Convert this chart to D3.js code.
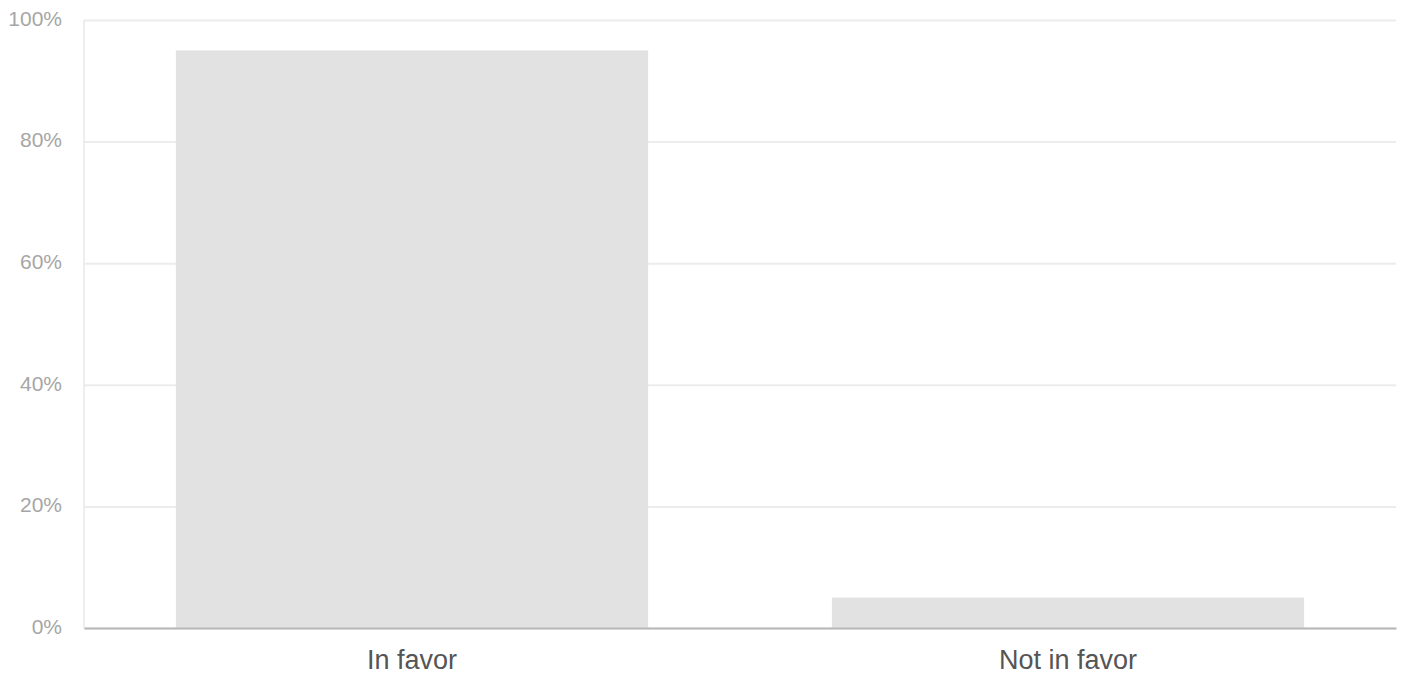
<!DOCTYPE html>
<html>
<head>
<meta charset="utf-8">
<script src="https://cdn.jsdelivr.net/npm/d3@7"></script>
<style>
  body { margin: 0; background: #fff; }
  text { font-family: "Liberation Sans", Arial, sans-serif; }
</style>
</head>
<body>
<div id="my_dataviz"></div>
<script>
// data
var categories = ["In favor", "Not in favor"];
var shares = [0.95, 0.05];
var yTicks = [0, 0.2, 0.4, 0.6, 0.8, 1];

// dimensions of the graph
var W = 1403, H = 677;
var margin = {top: 20, right: 7, bottom: 49, left: 84},
    width = W - margin.left - margin.right,
    height = H - margin.top - margin.bottom;

var svg = d3.select("#my_dataviz")
  .append("svg")
    .attr("width", W)
    .attr("height", H)
  .append("g")
    .attr("transform", "translate(" + margin.left + "," + margin.top + ")");

// scales
var x = d3.scaleBand()
  .range([0, width])
  .domain(categories)
  .paddingInner(0.28)
  .paddingOuter(0.14);

var y = d3.scaleLinear()
  .domain([0, 1])
  .range([height, 0]);

// gridlines + y labels
var yAxis = svg.append("g")
  .call(d3.axisLeft(y).tickValues(yTicks).tickSize(-width).tickFormat(d3.format(".0%")).tickPadding(22));
yAxis.select(".domain").remove();
yAxis.selectAll("line").attr("stroke", "#ececec").attr("stroke-width", 2);
yAxis.selectAll("text")
  .attr("fill", "#a6a6a6")
  .attr("dy", "0.25em")
  .style("font-size", "21px");

// left vertical line
svg.append("line")
  .attr("x1", 0).attr("x2", 0)
  .attr("y1", 0).attr("y2", height)
  .attr("stroke", "#e8e8e8")
  .attr("stroke-width", 1.5);

// bars
svg.selectAll("mybar")
  .data(categories)
  .enter()
  .append("rect")
    .attr("x", function(d) { return x(d); })
    .attr("width", x.bandwidth())
    .attr("y", function(d, i) { return y(shares[i]); })
    .attr("height", function(d, i) { return height - y(shares[i]); })
    .attr("fill", "#e2e2e2");

// x axis
var xAxis = svg.append("g")
  .attr("transform", "translate(0," + height + ")")
  .call(d3.axisBottom(x).tickSize(0).tickPadding(22));
xAxis.select(".domain").attr("stroke", "#b8b8b8").attr("stroke-width", 2);
xAxis.selectAll("text")
  .attr("fill", "#555")
  .style("font-size", "27px");
</script>
</body>
</html>
